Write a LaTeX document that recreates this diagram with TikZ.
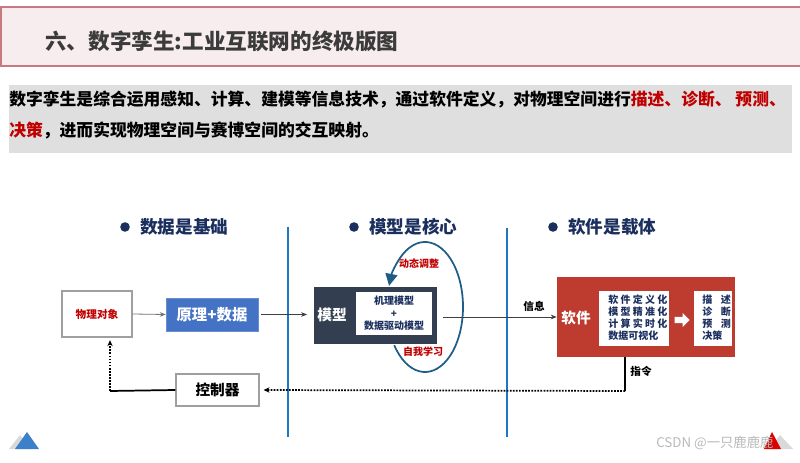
\documentclass[tikz,border=0pt]{standalone}
\usepackage{fontspec}
\setmainfont{Noto Sans CJK SC}
\usetikzlibrary{arrows.meta,shapes.arrows}
\definecolor{headfill}{HTML}{F7ECEE}
\definecolor{headline}{HTML}{C8787F}
\definecolor{titlegray}{HTML}{3B3B3B}
\definecolor{introgray}{HTML}{DFDFDF}
\definecolor{navy}{HTML}{1B2F5E}
\definecolor{keyred}{HTML}{C00000}
\definecolor{divblue}{HTML}{1F77C4}
\definecolor{datablue}{HTML}{4472C4}
\definecolor{slate}{HTML}{333F50}
\definecolor{softred}{HTML}{BE3B2F}
\definecolor{loopblue}{HTML}{1D5D87}
\newcommand{\lsp}{\hspace{1.7pt}}
\tikzset{
  plainbox/.style={draw=gray!75, fill=white, line width=0.8pt, inner sep=0pt},
  headline/.style={anchor=west, inner sep=0pt, text=navy, font=\bfseries\fontsize{13.2}{15}\selectfont},
  flow/.style={-{Stealth[length=4.5pt,width=3.5pt]}, line width=0.6pt, black!75},
  backflow/.style={line width=1.3pt, densely dotted},
  redtag/.style={text=keyred, font=\bfseries\fontsize{7.5}{9}\selectfont},
  smalltag/.style={font=\bfseries\fontsize{8}{9}\selectfont},
  divider/.style={divblue, line width=1.6pt}
}
\begin{document}
\begin{tikzpicture}[x=0.75pt, y=-0.75pt]
  \useasboundingbox (0,0) rectangle (800,463);
  % title bar and intro
  \draw[fill=headfill, draw=headline, line width=0.9pt] (1,7) rectangle (802,66);
  \node[anchor=west, inner sep=0pt, text=titlegray, font=\bfseries\fontsize{16.2}{19}\selectfont] (title) at (45,41) {六、数字孪生:工业互联网的终极版图};
  \fill[introgray] (9,85) rectangle (792,153);
  \node[anchor=west, font=\bfseries\fontsize{12.6}{15}\selectfont, inner sep=0pt] (introa) at (9,100)
    {数字孪生是综合运用感知、计算、建模等信息技术，通过软件定义，对物理空间进行\textcolor{keyred}{描述、诊断、 预测、}};
  \node[anchor=west, font=\bfseries\fontsize{12.6}{15}\selectfont, inner sep=0pt] (introb) at (9,130)
    {\textcolor{keyred}{决策}，进而实现物理空间与赛博空间的交互映射。};
  % three headings
  \fill[navy] (125,227) circle[radius=3.6pt];
  \node[headline] (hdata) at (140,227) {数据是基础};
  \fill[navy] (354,227) circle[radius=3.6pt];
  \node[headline] (hmodel) at (369,227) {模型是核心};
  \fill[navy] (553,227) circle[radius=3.6pt];
  \node[headline] (hsoft) at (568,227) {软件是载体};
  \draw[divider] (288,227) -- (288,437);
  \draw[divider] (507,228) -- (507,437);
  % data part
  \node[plainbox, minimum width=52.5pt, minimum height=34.5pt, text=keyred, font=\bfseries\fontsize{8}{9}\selectfont] (phys) at (97,314) {物理对象};
  \node[fill=datablue, draw=datablue!80!white, minimum width=69pt, minimum height=24.75pt, inner sep=0pt, text=white, font=\bfseries\fontsize{11.5}{13}\selectfont] (basis) at (212,314.5) {原理+数据};
  \node[plainbox, minimum width=62.25pt, minimum height=24pt, font=\bfseries\fontsize{11}{13}\selectfont] (ctrl) at (217.5,390) {控制器};
  % model part
  \node[fill=slate, minimum width=92.25pt, minimum height=42.75pt, inner sep=0pt] (model) at (375.5,315.5) {};
  \node[text=white, font=\bfseries\fontsize{11}{13}\selectfont] (modeltag) at (332,315) {模型};
  \node[fill=white, minimum width=57pt, minimum height=32.25pt, inner sep=0pt, align=center, text=navy, font=\bfseries\fontsize{7.5}{9.5}\selectfont] (mix) at (394,313.5) {机理模型\\+\\数据驱动模型};
  \coordinate (loopc) at (425,307);
  \draw[loopblue, line width=1.3pt, -{Triangle[length=9pt,width=9pt]}] (loopc) ++(144:38 and 65) arc[start angle=144, end angle=-161, x radius=38, y radius=65];
  \node[redtag] (adjust) at (419,264) {动态调整};
  \node[redtag] (learn) at (423,352) {自我学习};
  % software part
  \node[fill=softred, minimum width=133.5pt, minimum height=60pt, inner sep=0pt] (soft) at (646,317) {};
  \node[text=white, font=\bfseries\fontsize{11}{13}\selectfont] (softtag) at (576,318) {软件};
  \node[fill=white, minimum width=52.5pt, minimum height=41.25pt, inner sep=0pt] (define) at (634,318.5) {};
  \node[anchor=west, align=left, inner sep=0pt, text=navy, font=\bfseries\fontsize{7.5}{9}\selectfont] (definetext) at (608,318)
    {软\lsp 件\lsp 定\lsp 义\lsp 化\\模\lsp 型\lsp 精\lsp 准\lsp 化\\计\lsp 算\lsp 实\lsp 时\lsp 化\\数据可视化};
  \node[single arrow, fill=white, minimum height=11.25pt, minimum width=10.5pt, single arrow head extend=2pt, inner sep=1.5pt] (toaction) at (680.5,320) {};
  \node[fill=white, minimum width=28.5pt, minimum height=41.25pt, inner sep=0pt] (action) at (713,318.5) {};
  \node[anchor=west, align=left, inner sep=0pt, text=navy, font=\bfseries\fontsize{7.5}{9}\selectfont] (actiontext) at (702,318)
    {描\hspace{6.5pt}述\\诊\hspace{6.5pt}断\\预\hspace{6.5pt}测\\决策};
  % connectors
  \draw[flow, black!55] (phys.east) -- (basis.west);
  \draw[flow, shorten <=2pt, shorten >=5pt] (basis.east) -- (model.west |- basis.east);
  \draw[flow, shorten <=4pt] (model.east |- soft.west) -- (soft.west);
  \node[smalltag] (info) at (534,306) {信息};
  \coordinate (cmdturn) at (625,391);
  \draw[line width=1.3pt] (soft.south -| cmdturn) -- (cmdturn);
  \node[smalltag] (cmd) at (641,371) {指令};
  \draw[backflow, -{Stealth[length=4.5pt,width=4pt]}, shorten >=3pt] (cmdturn) -- (ctrl.east);
  \coordinate (backturn) at (110,391);
  \draw[line width=1.3pt] (ctrl.west) -- (backturn);
  \draw[backflow, -{Stealth[length=4.5pt,width=4pt]}, shorten >=2pt] (backturn) -- (phys.south -| backturn);
  % corner marks
  \fill[gray!30] (20,435) -- (9,449) -- (31,449) -- cycle;
  \fill[datablue!90!cyan] (27,432) -- (15,449) -- (39,449) -- cycle;
  \fill[gray!30] (780,435) -- (769,449) -- (793,449) -- cycle;
  \fill[red!85!black] (772,432) -- (764,449) -- (781,449) -- cycle;
  \node[anchor=west, text=gray!55, font=\fontsize{10}{12}\selectfont, inner sep=0pt] (mark) at (656,443) {CSDN @一只鹿鹿鹿};
\end{tikzpicture}
\end{document}
